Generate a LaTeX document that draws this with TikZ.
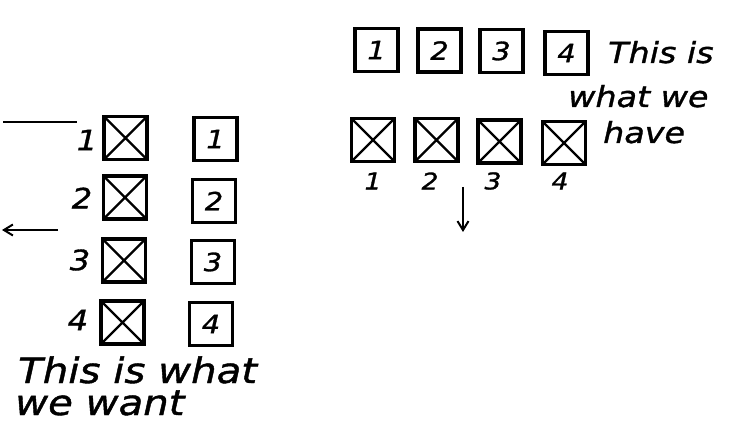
\documentclass[tikz,border=0pt]{standalone}
\usepackage{fontspec}
\newfontfamily\hand[FakeStretch=1.15,FakeBold=1.2]{DejaVu Sans Oblique}
\usetikzlibrary{arrows.meta}
\tikzset{
  box/.style={draw, line width=3.4pt, minimum size=43pt, inner sep=0pt, font=\hand\fontsize{25}{25}\selectfont},
  topbox/.style={box, font=\hand\fontsize{25}{25}\selectfont},
  xbox/.style={draw, line width=3.4pt, minimum size=43pt, inner sep=0pt,
    path picture={\draw[line width=2.4pt] (path picture bounding box.north west) -- (path picture bounding box.south east)
      (path picture bounding box.north east) -- (path picture bounding box.south west);}},
  sidelbl/.style={font=\hand\fontsize{28}{28}\selectfont, inner sep=0pt},
  underlbl/.style={font=\hand\fontsize{23}{23}\selectfont, inner sep=0pt},
  bigtxt/.style={font=\hand\fontsize{35}{35}\selectfont, inner sep=0pt, anchor=base west},
  midtxt/.style={font=\hand\fontsize{29}{29}\selectfont, inner sep=0pt, anchor=base west},
  stroke/.style={line width=2pt},
  arr/.style={line width=2pt, -{Straight Barb[length=9pt,width=11pt,line width=2pt]}}
}
\begin{document}
\begin{tikzpicture}[x=1pt,y=-1pt]
\useasboundingbox (0,0) rectangle (731,438);
% left column
\node[xbox] (lx1) at (125.5,138) {};
\node[xbox] (lx2) at (125,197.5) {};
\node[xbox] (lx3) at (124,260.5) {};
\node[xbox] (lx4) at (122.5,322.5) {};
\node[box] (lp1) at (215.5,139) {1};
\node[box] (lp2) at (214,201) {2};
\node[box] (lp3) at (213,262) {3};
\node[box] (lp4) at (211,324) {4};
\node[sidelbl] (ll1) at (87,140) {1};
\node[sidelbl] (ll2) at (82,198) {2};
\node[sidelbl] (ll3) at (80,260) {3};
\node[sidelbl] (ll4) at (78,320) {4};
\coordinate (la) at (3,122);
\coordinate (lb) at (77,122);
\draw[stroke] (la) -- (lb);
\coordinate (aa) at (58,230);
\coordinate (ab) at (2,230);
\draw[arr] (aa) -- (ab);
\node[bigtxt] (want1) at (18,383) {This is what};
\node[bigtxt] (want2) at (15,415) {we want};
% top right
\node[topbox] (tp1) at (376.5,50) {1};
\node[topbox] (tp2) at (439.5,50.5) {2};
\node[topbox] (tp3) at (501.5,51) {3};
\node[topbox] (tp4) at (566.5,53) {4};
\node[xbox] (tx1) at (373,140) {};
\node[xbox] (tx2) at (436.5,140) {};
\node[xbox] (tx3) at (499.5,141.5) {};
\node[xbox] (tx4) at (564,143) {};
\node[underlbl] (tl1) at (373,181) {1};
\node[underlbl] (tl2) at (430,181) {2};
\node[underlbl] (tl3) at (493,181) {3};
\node[underlbl] (tl4) at (560,181) {4};
\coordinate (da) at (463,187);
\coordinate (db) at (463,232);
\draw[arr] (da) -- (db);
\node[midtxt] (have1) at (608,63) {This is};
\node[midtxt] (have2) at (568,107) {what we};
\node[midtxt] (have3) at (603,143) {have};
\end{tikzpicture}
\end{document}
